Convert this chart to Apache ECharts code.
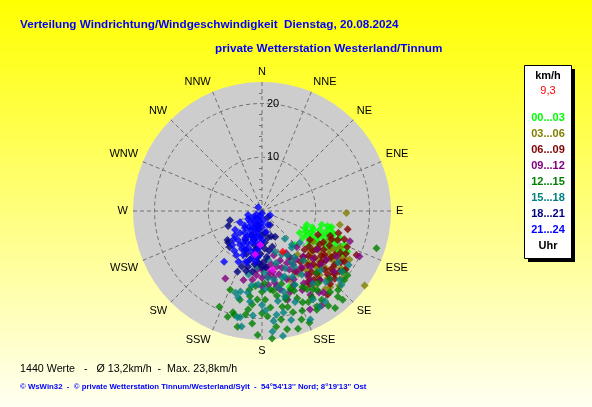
<!DOCTYPE html>
<html>
<head>
<meta charset="utf-8">
<script src="https://cdn.jsdelivr.net/npm/echarts@6/dist/echarts.min.js"></script>
<style>
html,body{margin:0;padding:0;background:#fff;}
#chart{width:592px;height:407px;}
</style>
</head>
<body>
<div id="chart"></div>
<script>
// ---------- texts ----------
const titleLine1 = 'Verteilung Windrichtung/Windgeschwindigkeit  Dienstag, 20.08.2024';
const titleLine2 = 'private Wetterstation Westerland/Tinnum';
const statsLine = '1440 Werte   -   Ø 13,2km/h  -  Max. 23,8km/h';
const creditLine = '© WsWin32  -  © private Wetterstation Tinnum/Westerland/Sylt  -  54°54\'13\'\' Nord; 8°19\'13\'\' Ost';

// ---------- axes ----------
const directions = ['N','NNE','NE','ENE','E','ESE','SE','SSE','S','SSW','SW','WSW','W','WNW','NW','NNW'];
const radiusMax = 24;
const radiusLabels = [10, 20];

// ---------- legend ----------
const legendUnit = 'km/h';
const currentValue = '9,3';
const hourRanges = ['00...03','03...06','06...09','09...12','12...15','15...18','18...21','21...24'];
const hourColors = ['#00ff00','#808000','#800000','#800080','#008000','#008080','#000080','#0000ff'];
const legendFooter = 'Uhr';

// ---------- data: [speed km/h, direction deg] ----------
const h00_03 = [[8.6,112],[10.0,113],[11.3,108],[13.0,104],[13.8,107],[15.3,109],[16.6,112],[17.6,115.5],[16.9,119],[9.1,123],[10.6,123],[11.5,116],[12.8,115],[8.1,120],[11.4,103],[13.0,110],[15.2,115],[8.8,136],[12.2,126],[13.3,103],[13.7,120],[8.7,107],[15.8,117],[15.0,160],[15.0,156],[9.5,118],[12.0,112],[14.2,113],[10.5,117],[16.0,121],[14.5,118],[11.0,120],[9.8,108],[12.5,108],[15.5,124],[9.0,115],[10.2,110],[11.8,120],[12.5,103],[14.0,108],[14.8,112],[16.2,115],[17.0,117],[13.2,117],[10.8,127]];
const h03_06 = [[15.7,91.3],[14.7,100],[23.6,126],[12.2,126],[14.5,120],[16.9,121],[14.6,130],[13.4,138],[13.0,147],[16.2,140],[18.0,131],[18.9,125],[18.7,141],[16.3,151],[13.8,158],[13.7,113],[11.1,121],[10.5,141],[18.6,119],[18.6,150],[15.5,125],[17.0,128],[12.5,133],[14.0,143],[16.0,115],[19.5,130],[15.0,135],[17.5,136],[12.0,140],[20.0,134],[14.3,127],[11.8,130],[17.8,120],[13.0,125],[14.8,123],[16.5,125],[15.8,132],[13.8,131],[17.2,131],[16.0,138],[14.5,136],[12.8,138],[15.2,118],[18.2,126],[19.0,138],[17.0,145],[15.2,145],[13.5,150]];
const h06_09 = [[10.4,121],[12.4,120],[14.1,117],[15.8,121],[14.2,125],[13.1,131.6],[10.7,132],[11.8,143],[14.7,133],[16.8,126.5],[18.0,121.6],[18.3,128],[17.0,134],[14.6,140.7],[12.8,151.6],[11.3,113],[15.1,111],[15.7,147],[18.6,137],[10.1,149],[16.3,147],[16.7,140],[19.8,142],[16.3,102],[19.4,115],[14.8,106],[13.5,122],[15.0,128],[16.5,118],[12.0,128],[17.5,123],[13.8,136],[11.5,138],[16.0,133],[14.0,112],[12.8,117],[17.2,113],[15.5,139],[19.0,125],[13.0,145],[12.5,124],[13.8,127],[15.5,124],[16.8,130],[14.5,131],[13.2,140],[16.0,143],[17.8,131],[18.5,133],[12.0,134],[11.0,127],[14.8,144],[17.5,117],[16.2,109],[13.5,110]];
const h09_12 = [[14.3,208.5],[13.3,195],[12.4,180],[11.6,173],[10.7,165],[9.3,136],[15.0,167],[16.0,161],[17.9,135],[20.0,115],[17.3,109],[13.7,139],[11.4,138],[10.7,154],[12.5,125],[16.3,121.5],[12.9,188],[9.7,184],[10.9,180],[12.3,175],[11.2,160.7],[10.1,149],[14.3,169],[17.2,164],[20.8,147.7],[20.4,154],[13.0,150],[14.5,145],[12.0,155],[15.5,150],[13.5,160],[16.8,140],[11.0,145],[14.8,132],[18.5,145],[12.2,165],[15.0,157],[9.8,160],[11.5,150],[12.8,145],[14.0,155],[15.8,145],[16.5,153],[13.5,170],[11.5,170],[10.5,175],[12.0,185],[14.0,180],[18.0,150],[19.0,143],[17.5,130],[15.0,127],[13.0,133],[11.0,185],[12.5,170],[13.8,175],[10.0,170],[9.0,150],[8.5,165]];
const h12_15 = [[19.5,204],[20.7,198],[23.1,182],[23.8,175.5],[22.9,163],[22.6,157],[22.6,143],[22.4,108],[19.9,146],[21.0,151],[14.8,189],[17.0,194],[19.5,189],[19.6,177],[21.7,173],[18.2,168],[19.7,163],[18.6,156],[16.6,164],[14.7,174],[17.4,147],[19.7,140],[22.3,137.7],[15.8,202],[19.6,196],[16.5,183],[16.0,152],[15.3,138.4],[18.8,127],[19.9,127],[20.4,136],[21.3,138.5],[17.5,158],[18.0,175],[20.5,170],[16.0,170],[17.5,186],[21.0,185],[18.5,150],[15.5,160],[20.0,158],[17.0,142],[22.0,192],[14.0,165],[16.5,178],[16.8,150],[18.0,145],[19.0,153],[20.5,150],[21.5,160],[19.0,180],[17.0,165],[18.5,188],[20.0,195],[16.0,188],[15.0,180],[21.5,145],[20.0,130],[17.8,135],[22.5,168],[13.5,178],[15.0,172],[14.0,185],[16.0,158],[18.5,165]];
const h15_18 = [[6.7,140.6],[8.0,162],[8.8,141],[15.5,195],[16.7,195.4],[17.0,187.5],[20.2,191.6],[21.8,190],[19.5,172],[23.6,170.5],[22.5,175],[12.1,192],[13.7,183],[12.9,161],[15.0,156],[9.1,173],[8.9,155.6],[8.4,138.6],[9.2,130],[20.3,193],[20.6,174],[19.3,168],[22.1,156],[20.8,149],[15.4,190],[19.0,122],[19.3,131.5],[18.6,127],[17.1,124],[20.2,133],[20.5,145],[11.0,150],[13.0,170],[14.5,178],[16.5,165],[18.0,160],[12.0,140],[14.0,148],[10.0,165],[17.5,180],[11.5,158],[13.5,155],[15.5,165],[17.0,170],[18.5,178],[19.5,185],[14.0,188],[16.0,198],[13.0,163],[10.5,145],[16.5,145],[17.8,138],[15.5,135],[19.0,150],[21.0,165],[10.5,185],[11.5,178],[12.5,175],[14.5,168],[9.5,150],[12.0,150]];
const h18_21 = [[6.9,246],[6.2,254],[8.4,230],[8.6,227],[12.2,202],[10.7,194],[11.4,189],[1.6,135],[5.9,175],[6.9,164],[8.6,174],[7.3,190],[10.4,180],[6.2,210],[9.3,194],[4.1,172],[5.4,153],[4.8,203],[6.3,183],[7.9,204],[2.7,196],[5.1,167.5],[3.0,150],[9.5,178],[7.5,170],[10.0,188],[8.0,182],[11.0,200],[3.5,190],[9.0,222],[5.5,195],[6.5,192],[8.8,186],[9.8,183],[10.5,176],[7.0,176],[5.0,160],[4.5,180],[11.5,195],[8.5,200]];
const h21_24 = [[0.4,180],[1.5,210],[1.7,167.5],[2.9,206.6],[3.0,180],[4.2,212],[4.0,191],[4.0,169],[5.9,212],[5.6,197],[5.4,180],[7.5,213],[7.3,200.7],[7.3,187],[8.9,203],[8.9,192],[10.4,205],[11.8,216.7],[6.1,235],[4.6,243],[2.7,254],[1.0,315],[4.5,225],[3.0,227],[7.0,219.6],[8.4,221],[9.8,196],[9.5,187],[2.8,157],[1.7,117],[2.0,195],[3.5,200],[5.0,205],[6.5,205],[6.0,190],[8.0,208],[9.5,210],[6.8,228],[3.8,218],[2.2,235],[5.2,218],[7.8,195],[4.8,185],[1.2,240],[8.5,185],[10.0,198],[1.0,200],[2.5,215],[3.2,195],[3.6,208],[4.5,198],[5.0,192],[5.5,210],[6.2,198],[6.8,185],[7.0,210],[7.8,203],[8.2,190],[9.0,215],[4.2,230],[5.8,225],[3.0,240],[1.8,225],[2.4,185],[6.0,182],[7.5,225]];
const extraMagenta = [[6.3,183],[8.2,189],[11.1,170]];
const currentPoint = [[8.5,153]];

const hourData = [h00_03,h03_06,h06_09,h09_12,h12_15,h15_18,h18_21,h21_24];

const chart = echarts.init(document.getElementById('chart'), null, {renderer:'canvas'});

const series = hourData.map((d, i) => ({
  type: 'scatter', coordinateSystem: 'polar', name: hourRanges[i],
  data: d, symbol: 'diamond', symbolSize: 8, silent: true,
  itemStyle: {color: hourColors[i]}
}));
series.push({type:'scatter', coordinateSystem:'polar', data: extraMagenta, symbol:'diamond', symbolSize:8, silent:true, itemStyle:{color:'#ff00ff'}});
series.push({type:'scatter', coordinateSystem:'polar', data: currentPoint, symbol:'diamond', symbolSize:8, silent:true, itemStyle:{color:'#ff0000'}});

const FONT = 'Arial, "Liberation Sans", sans-serif';
const CX = 262, CY = 211, R = 129;
const graphics = [];
// grey disc behind the polar grid
graphics.push({type:'circle', z:-10, silent:true, shape:{cx:CX, cy:CY, r:R}, style:{fill:'#cdcdcd'}});
graphics.push({type:'text', style:{text:titleLine1, x:20, y:25, fill:'#0000ff', font:'bold 11.7px ' + FONT, textVerticalAlign:'middle'}});
graphics.push({type:'text', style:{text:titleLine2, x:215, y:49, fill:'#0000ff', font:'bold 11.7px ' + FONT, textVerticalAlign:'middle'}});
graphics.push({type:'text', style:{text:statsLine, x:20, y:369, fill:'#000', font:'10.7px ' + FONT, textVerticalAlign:'middle'}});
graphics.push({type:'text', style:{text:creditLine, x:20, y:387, fill:'#0000ff', font:'bold 7.8px ' + FONT, textVerticalAlign:'middle'}});
// legend box with shadow
graphics.push({type:'rect', shape:{x:528, y:69, width:47, height:193}, style:{fill:'#000'}});
graphics.push({type:'rect', shape:{x:524.5, y:65.5, width:47, height:193}, style:{fill:'#fff', stroke:'#000', lineWidth:1}});
const lcx = 548;
graphics.push({type:'text', style:{text:legendUnit, x:lcx, y:76, fill:'#000', font:'bold 11px ' + FONT, textAlign:'center', textVerticalAlign:'middle'}});
graphics.push({type:'text', style:{text:currentValue, x:lcx, y:91, fill:'#ff0000', font:'11px ' + FONT, textAlign:'center', textVerticalAlign:'middle'}});
hourRanges.forEach((t, i) => {
  graphics.push({type:'text', style:{text:t, x:lcx, y:118 + i*16, fill:hourColors[i], font:'bold 11px ' + FONT, textAlign:'center', textVerticalAlign:'middle'}});
});
graphics.push({type:'text', style:{text:legendFooter, x:lcx, y:246, fill:'#000', font:'bold 11px ' + FONT, textAlign:'center', textVerticalAlign:'middle'}});

chart.setOption({
  animation: false,
  backgroundColor: {type:'linear', x:0, y:0, x2:0, y2:1, colorStops:[{offset:0, color:'#ffff00'},{offset:1, color:'#fffff2'}]},
  polar: {center:[CX, CY], radius:R},
  angleAxis: {
    type:'value', min:0, max:360, interval:22.5, startAngle:90, clockwise:true,
    axisLine:{show:false}, axisTick:{show:false},
    axisLabel:{margin:5, color:'#000', fontSize:11, fontFamily:FONT,
      formatter: v => v >= 360 ? '' : directions[Math.round(v/22.5) % 16]},
    splitLine:{show:true, lineStyle:{color:'#707070', width:1, type:[4,3]}}
  },
  radiusAxis: {
    type:'value', min:0, max:radiusMax, interval:10,
    axisLine:{show:false}, axisTick:{show:false},
    minorTick:{show:true, splitNumber:5, length:3, lineStyle:{color:'#707070'}},
    axisLabel:{inside:true, margin:-5, align:'left', verticalAlign:'middle', color:'#000', fontSize:11, fontFamily:FONT, formatter: v => radiusLabels.includes(v) ? String(v) : ''},
    splitLine:{show:true, lineStyle:{color:['#707070','#707070','#707070','rgba(0,0,0,0)'], width:1, type:[4,3]}}
  },
  graphic: graphics,
  series: series
});
</script>
</body>
</html>
